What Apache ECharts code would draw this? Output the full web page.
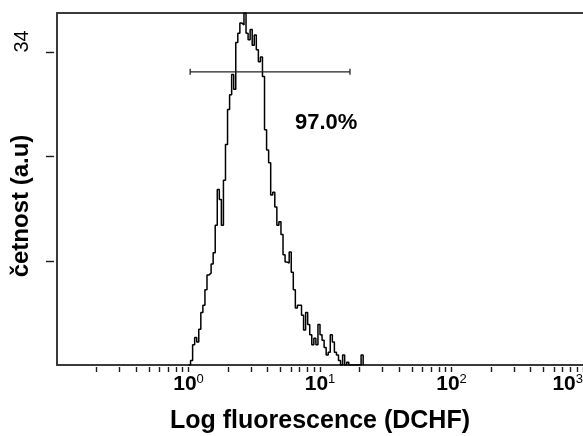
<!DOCTYPE html>
<html>
<head>
<meta charset="utf-8">
<script src="https://cdn.jsdelivr.net/npm/echarts@6/dist/echarts.min.js"></script>
<style>
  html, body { margin: 0; padding: 0; background: #ffffff; }
  #chart { width: 583px; height: 436px; }
</style>
</head>
<body>
<div id="chart"></div>
<script>
// Fluorescence histogram: 64 channels per decade on a log axis from 10^-1 to 10^3
const decadeMin = -1;
const decadeMax = 3;
const channelsPerDecade = 64;
const firstChannel = 64;          // channel 64 sits at 10^0
const counts = [
  0, 0.5, 2.2, 3.0, 2.5, 3.9, 5.7, 6.5, 8.2, 9.8,
  10.0, 11.0, 12.2, 15.2, 19.1, 18.0, 15.2, 20.1, 24.0, 27.8,
  29.4, 31.6, 30.0, 35.1, 36.1, 37.2, 37.0, 38.3, 36.1, 35.4,
  36.5, 34.8, 35.9, 34.3, 33.0, 33.5, 31.4, 25.6, 23.4, 22.0,
  18.5, 18.8, 17.2, 15.2, 15.6, 14.2, 12.0, 11.2, 11.1, 12.3,
  10.1, 8.2, 6.2, 6.5, 6.5, 5.4, 3.8, 5.7, 4.4, 3.3,
  2.2, 2.9, 2.2, 4.4, 3.3, 2.7, 1.9, 1.1, 1.4, 3.3,
  2.5, 1.4, 1.1, 0.5, 0, 1.1, 0, 0.3, 0, 0,
  0, 0, 0, 0, 1.1
];
const decadeLabels = [0, 1, 2, 3];
const yTickValues = [34 / 3, 68 / 3, 34];
const yLabelValues = [34];
const yMax = 38.3;

// Marker gate and its percentage
const gateFrom = 1.03;
const gateTo = 16.9;
const gateLevel = 31.9;
const gateText = '97.0%';

const xTitle = 'Log fluorescence (DCHF)';
const yTitle = 'četnost (a.u)';

const FONT = 'Liberation Sans, Arial, sans-serif';
const AXIS_COLOR = '#3a3a3a';
const TICK_COLOR = '#1a1a1a';

// Step outline: each point is a channel's left edge and its count
const histPoints = counts.map((c, i) => [decadeMin + (firstChannel + i) / channelsPerDecade, c]);
histPoints.push([decadeMin + (firstChannel + counts.length) / channelsPerDecade, 0]);

// Major and minor (2..9) tick positions in log10 units
const logTicks = [];
for (let n = decadeMin; n < decadeMax; n++) {
  for (let k = 1; k <= 9; k++) {
    if (n === decadeMin && k === 1) continue;
    logTicks.push(n + Math.log10(k));
  }
}
logTicks.push(decadeMax);

const chart = echarts.init(document.getElementById('chart'), null, { renderer: 'canvas' });

chart.setOption({
  backgroundColor: '#ffffff',
  animation: false,
  grid: { left: 57, top: 13, width: 526, height: 352, outerBoundsMode: 'none', containLabel: false },
  xAxis: [
    {
      // main axis: line and title
      type: 'value', min: decadeMin, max: decadeMax, position: 'bottom',
      axisLine: { show: true, onZero: false, lineStyle: { color: AXIS_COLOR, width: 2 } },
      axisTick: { show: false }, axisLabel: { show: false }, splitLine: { show: false },
      name: xTitle, nameLocation: 'middle', nameGap: 44,
      nameTextStyle: { fontFamily: FONT, fontSize: 25, fontWeight: 'bold', color: '#000' }
    },
    {
      // ticks and decade labels, drawn just below the axis line
      type: 'value', min: decadeMin, max: decadeMax, position: 'bottom', offset: 2,
      axisLine: { show: false, onZero: false },
      axisTick: { show: true, length: 5, customValues: logTicks, lineStyle: { color: TICK_COLOR, width: 1.4 } },
      axisLabel: {
        show: true, customValues: decadeLabels, margin: 6, alignMaxLabel: 'right',
        formatter: v => '{b|10}{s|' + Math.round(v) + '}',
        rich: {
          b: { fontFamily: FONT, fontSize: 21, fontWeight: 'bold', color: '#000', lineHeight: 22 },
          s: { fontFamily: FONT, fontSize: 13, color: '#000', verticalAlign: 'top', lineHeight: 14 }
        }
      },
      splitLine: { show: false }
    },
    {
      // top frame line
      type: 'value', min: decadeMin, max: decadeMax, position: 'top',
      axisLine: { show: true, onZero: false, lineStyle: { color: AXIS_COLOR, width: 2 } },
      axisTick: { show: false }, axisLabel: { show: false }, splitLine: { show: false }
    }
  ],
  yAxis: [
    {
      type: 'value', min: 0, max: yMax, position: 'left',
      axisLine: { show: true, onZero: false, lineStyle: { color: AXIS_COLOR, width: 2 } },
      axisTick: { show: false }, axisLabel: { show: false }, splitLine: { show: false },
      name: yTitle, nameLocation: 'middle', nameGap: 24,
      nameTextStyle: { fontFamily: FONT, fontSize: 24, fontWeight: 'bold', color: '#000', padding: [0, 34, 0, 0] }
    },
    {
      type: 'value', min: 0, max: yMax, position: 'left', offset: 3,
      axisLine: { show: false, onZero: false },
      axisTick: { show: true, length: 8, customValues: yTickValues, lineStyle: { color: TICK_COLOR, width: 1.4 } },
      axisLabel: {
        show: true, customValues: yLabelValues, rotate: 90, margin: 22,
        align: 'left',
        fontFamily: FONT, fontSize: 20, color: '#000',
        formatter: v => String(Math.round(v))
      },
      splitLine: { show: false }
    }
  ],
  series: [
    {
      type: 'line',
      xAxisIndex: 0, yAxisIndex: 0,
      data: histPoints,
      step: 'end',
      showSymbol: false,
      lineStyle: { color: '#000', width: 1.5 },
      clip: true,
      z: 3
    },
    {
      type: 'custom',
      xAxisIndex: 0, yAxisIndex: 0,
      data: [[Math.log10(gateFrom), Math.log10(gateTo), gateLevel]],
      encode: { x: [0, 1], y: 2 },
      renderItem: (params, api) => {
        const a = api.coord([api.value(0), api.value(2)]);
        const b = api.coord([api.value(1), api.value(2)]);
        const style = { stroke: '#222', lineWidth: 1.3 };
        return {
          type: 'group',
          children: [
            { type: 'line', shape: { x1: a[0], y1: a[1], x2: b[0], y2: b[1] }, style },
            { type: 'line', shape: { x1: a[0], y1: a[1] - 3, x2: a[0], y2: a[1] + 3 }, style },
            { type: 'line', shape: { x1: b[0], y1: b[1] - 3, x2: b[0], y2: b[1] + 3 }, style }
          ]
        };
      },
      z: 4
    }
  ],
  graphic: [
    {
      type: 'text', left: 295, top: 112,
      style: { text: gateText, font: 'bold 22px ' + FONT, fill: '#000' }
    }
  ]
});
</script>
</body>
</html>
